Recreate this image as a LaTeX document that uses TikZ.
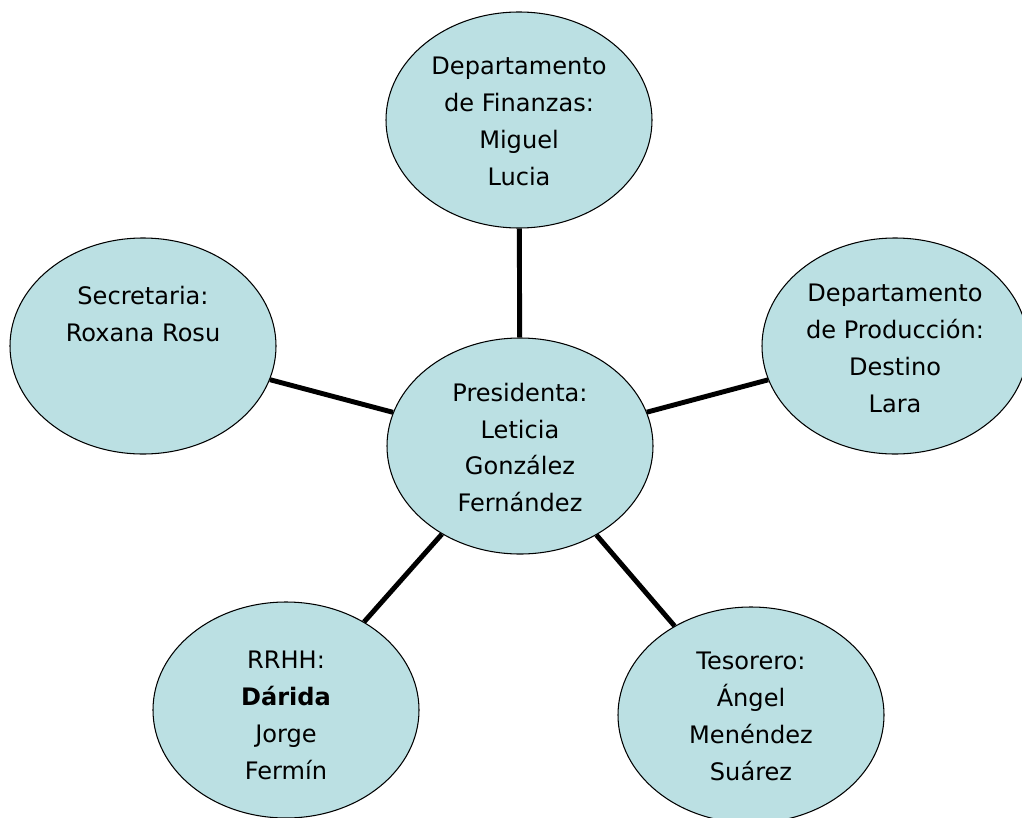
\documentclass[tikz,border=0pt]{standalone}
\usepackage{fontspec}
\setmainfont{DejaVu Sans}
\usepackage{tikz}
\usetikzlibrary{shapes.geometric, positioning}
\definecolor{cargo}{HTML}{BBE0E3}
\tikzstyle{puesto} = [ellipse, minimum width=5.32cm, minimum height=4.32cm, inner sep=0pt, draw=black, line width=0.6pt, fill=cargo]
\tikzstyle{nombre} = [inner sep=0pt, align=center, font=\fontsize{13.7}{21}\selectfont]
\tikzstyle{linea} = [line width=2.8pt, draw=black]

\begin{document}
\begin{tikzpicture}
  \useasboundingbox (0,0) rectangle (20.44,-16.34);
  \node (fin) [puesto] at (10.38,-2.40) {};
  \node (sec) [puesto] at (2.86,-6.92) {};
  \node (prod) [puesto] at (17.90,-6.92) {};
  \node (pres) [puesto] at (10.40,-8.92) {};
  \node (rrhh) [puesto] at (5.72,-14.20) {};
  \node (tes) [puesto] at (15.02,-14.30) {};
  \node (finT) [nombre, below = 0.9cm of fin.north] {Departamento\\de Finanzas:\\Miguel\\Lucia};
  \node (secT) [nombre, below = 0.96cm of sec.north] {Secretaria:\\Roxana Rosu};
  \node (prodT) [nombre, below = 0.92cm of prod.north] {Departamento\\de Producción:\\Destino\\Lara};
  \node (presT) [nombre, below = 0.9cm of pres.north] {Presidenta:\\Leticia\\González\\Fernández};
  \node (rrhhT) [nombre, below = 0.98cm of rrhh.north] {RRHH:\\\textbf{Dárida}\\Jorge\\Fermín};
  \node (tesT) [nombre, below = 0.9cm of tes.north] {Tesorero:\\Ángel\\Menéndez\\Suárez};
  \draw [linea] (pres) -- (fin);
  \draw [linea] (pres) -- (sec);
  \draw [linea] (pres) -- (prod);
  \draw [linea] (pres) -- (rrhh);
  \draw [linea] (pres) -- (tes);
\end{tikzpicture}
\end{document}
